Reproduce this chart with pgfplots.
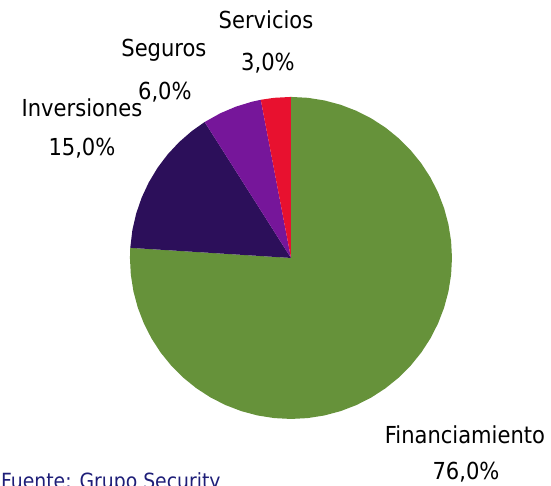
\documentclass[border=0pt]{standalone}
\usepackage{fontspec}
\setmainfont{DejaVu Sans Condensed}
\usepackage{pgfplots}
\pgfplotsset{compat=1.18}
\definecolor{cfin}{RGB}{102,146,58}
\definecolor{cinv}{RGB}{44,15,90}
\definecolor{cseg}{RGB}{118,22,154}
\definecolor{cser}{RGB}{232,17,47}
\definecolor{cfuente}{RGB}{30,30,120}

\begin{document}
\begin{tikzpicture}
\begin{axis}[
  x=161bp, y=161bp,
  xmin=-1.807, xmax=1.615, ymin=-1.416, ymax=1.602,
  hide axis, clip=false,
  every axis plot/.append style={data cs=polar, draw=none},
  nodes={font=\fontsize{23.5}{28}\selectfont, align=center, text=black},
]
% Financiamiento 76,0% (90 -> -183.6)
\addplot[fill=cfin] coordinates {
  (0,0) (90,1) (84,1) (78,1) (72,1) (66,1) (60,1) (54,1) (48,1) (42,1)
  (36,1) (30,1) (24,1) (18,1) (12,1) (6,1) (0,1) (-6,1) (-12,1) (-18,1)
  (-24,1) (-30,1) (-36,1) (-42,1) (-48,1) (-54,1) (-60,1) (-66,1) (-72,1)
  (-78,1) (-84,1) (-90,1) (-96,1) (-102,1) (-108,1) (-114,1) (-120,1)
  (-126,1) (-132,1) (-138,1) (-144,1) (-150,1) (-156,1) (-162,1) (-168,1)
  (-174,1) (-180,1) (-183.6,1)};
% Inversiones 15,0%
\addplot[fill=cinv] coordinates {
  (0,0) (176.4,1) (170,1) (164,1) (158,1) (152,1) (146,1) (140,1) (134,1)
  (128,1) (122.4,1)};
% Seguros 6,0%
\addplot[fill=cseg] coordinates {
  (0,0) (122.4,1) (116,1) (110,1) (104,1) (100.8,1)};
% Servicios 3,0%
\addplot[fill=cser] coordinates {
  (0,0) (100.8,1) (96,1) (90,1)};

\node at (axis cs:-0.155,1.478) {Servicios};
\node at (axis cs:-0.143,1.211) {3,0\%};
\node at (axis cs:-0.789,1.292) {Seguros};
\node at (axis cs:-0.783,1.031) {6,0\%};
\node at (axis cs:-1.298,0.932) {Inversiones};
\node at (axis cs:-1.298,0.683) {15,0\%};
\node at (axis cs:1.081,-1.099) {Financiamiento};
\node at (axis cs:1.087,-1.329) {76,0\%};
\node[anchor=base west, inner sep=0pt, text=cfuente, font=\fontsize{21}{25}\selectfont] at (axis cs:-1.801,-1.43) {Fuente: Grupo Security};
\end{axis}
\pgfresetboundingbox
\useasboundingbox (current axis.south west) rectangle (current axis.north east);
\end{tikzpicture}
\end{document}
